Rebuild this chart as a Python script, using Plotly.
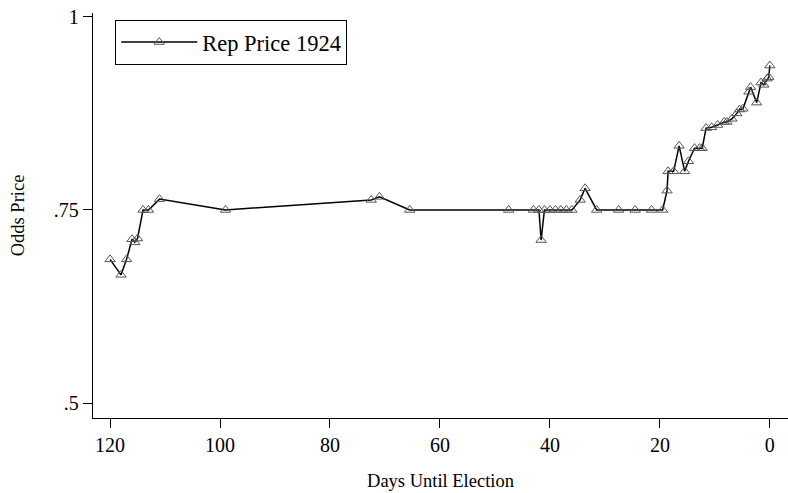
import plotly.graph_objects as go

days = [120, 118, 117, 116, 115.5, 115, 114, 113, 111, 99, 72.5, 71, 65.5,
        47.5, 43, 42, 41.6, 41, 40, 39, 38, 37, 36, 34.5, 33.6, 31.5, 27.5,
        24.5, 21.5, 19.5, 18.7, 18.5, 17.5, 16.5, 15.5, 14.8, 13.7, 12.8,
        12.3, 11.6, 10.6, 9.5, 8.3, 7.8, 6.9, 6.0, 5.5, 4.9, 3.8, 3.5, 2.4,
        1.6, 1.1, 0.5, 0.2, 0.0]
price = [0.686, 0.666, 0.686, 0.712, 0.708, 0.713, 0.75, 0.75, 0.764, 0.75,
         0.763, 0.767, 0.75, 0.75, 0.75, 0.75, 0.711, 0.75, 0.75, 0.75, 0.75,
         0.75, 0.75, 0.763, 0.778, 0.75, 0.75, 0.75, 0.75, 0.75, 0.775, 0.8,
         0.8, 0.833, 0.8, 0.813, 0.83, 0.83, 0.83, 0.856, 0.857, 0.86, 0.864,
         0.864, 0.868, 0.875, 0.88, 0.881, 0.903, 0.909, 0.889, 0.915, 0.912,
         0.92, 0.922, 0.937]

x_ticks = [120, 100, 80, 60, 40, 20, 0]
y_ticks = [0.5, 0.75, 1.0]
y_tick_labels = [".5", ".75", "1"]

FONT = "Liberation Serif"

fig = go.Figure()
fig.add_trace(go.Scatter(
    x=days, y=price, mode="lines+markers", name="Rep Price 1924",
    line=dict(color="black", width=1.5),
    marker=dict(symbol="triangle-up-open", size=9, color="#555555",
                line=dict(width=1)),
))

fig.update_layout(
    width=788, height=493,
    margin=dict(l=93, r=0, t=13, b=75),
    paper_bgcolor="white", plot_bgcolor="white",
    font=dict(family=FONT, size=18, color="black"),
    showlegend=True,
    legend=dict(x=0.032, y=0.983, xanchor="left", yanchor="top",
                bordercolor="black", borderwidth=1, bgcolor="white",
                font=dict(family=FONT, size=22.5), itemwidth=76,
                tracegroupgap=0),
    xaxis=dict(range=[123.1, -3.3], tickvals=x_ticks, ticks="outside",
               ticklen=9, tickcolor="black", showline=True, linecolor="black",
               linewidth=1.3, showgrid=False, zeroline=False, automargin=False,
               ticklabeloverflow="allow",
               title=dict(text="Days Until Election", standoff=18,
                          font=dict(family=FONT, size=18.5)),
               tickfont=dict(family=FONT, size=20)),
    yaxis=dict(range=[0.4806, 1.005], tickvals=y_ticks, ticktext=y_tick_labels,
               ticks="outside", ticklen=9, tickcolor="black", showline=True,
               linecolor="black", linewidth=1.3, showgrid=False, zeroline=False,
               automargin=False, ticklabeloverflow="allow",
               title=dict(text="Odds Price", standoff=24,
                          font=dict(family=FONT, size=18.5)),
               tickfont=dict(family=FONT, size=20)),
)

# remove the browser's default 8px page margin so the figure fills the window
fig.write_html("out.html", config={"displayModeBar": False},
               post_script="document.body.style.margin='0';")
